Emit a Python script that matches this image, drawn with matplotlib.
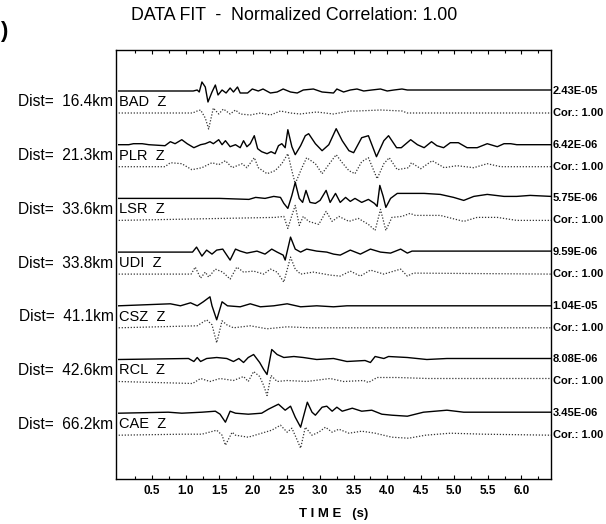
import matplotlib.pyplot as plt

# station info, top to bottom
STATIONS = ["BAD", "PLR", "LSR", "UDI", "CSZ", "RCL", "CAE"]
DISTANCES_KM = [16.4, 21.3, 33.6, 33.8, 41.1, 42.6, 66.2]
PEAK_AMPS = ["2.43E-05", "6.42E-06", "5.75E-06", "9.59E-06", "1.04E-05", "8.08E-06", "3.45E-06"]
CORRELATIONS = [1.00, 1.00, 1.00, 1.00, 1.00, 1.00, 1.00]
TIME_TICKS = [0.5, 1.0, 1.5, 2.0, 2.5, 3.0, 3.5, 4.0, 4.5, 5.0, 5.5, 6.0]

# (time [s], normalised amplitude, up positive)
BAD_OBS = [(0.00, 0), (1.11, 0), (1.17, 1), (1.20, -1), (1.24, 9), (1.29, 4), (1.33, -11), (1.39, -1),
           (1.44, 6), (1.48, -4), (1.54, 1), (1.60, -2), (1.66, 3), (1.71, -1), (1.77, 4), (1.81, -2),
           (1.92, -2), (1.99, 2), (2.08, 0), (2.15, 2), (2.26, -2), (2.36, -1), (2.45, 2), (2.56, -1),
           (2.66, -2), (2.75, 1), (2.90, 2), (3.03, -1), (3.20, -2), (3.25, 2), (3.35, -1), (3.45, 1),
           (3.55, 2), (3.65, 0), (3.77, 1), (3.90, 2), (4.00, 0), (4.10, 1), (4.22, 2), (4.30, 1), (6.44, 1)]
BAD_SYN = [(0.00, 0), (1.10, 0), (1.17, 2), (1.22, 3), (1.29, -5), (1.34, -16), (1.41, 5), (1.49, -1),
           (1.56, 4), (1.66, -1), (1.74, 3), (1.81, -1), (1.96, -2), (2.11, 0), (2.26, -2), (2.41, 2),
           (2.56, 0), (2.70, -1), (2.95, 1), (3.20, -1), (3.45, 2), (3.55, 2), (3.90, 3), (4.22, 2),
           (4.30, 0), (6.44, 0)]

PLR_OBS = [(0.00, 0), (0.15, 0), (0.22, 1), (0.35, 1), (0.45, 0), (0.69, -1), (0.77, 3), (0.84, 1),
           (0.94, 5), (1.02, 1), (1.12, -3), (1.22, 0), (1.29, 1), (1.36, 3), (1.41, 1), (1.49, 5),
           (1.54, 0), (1.59, 4), (1.66, -2), (1.74, 0), (1.81, -3), (1.86, 4), (1.91, -2), (1.96, 1),
           (2.02, 9), (2.07, -4), (2.13, -7), (2.21, -9), (2.27, -7), (2.33, -9), (2.38, -1), (2.43, 1),
           (2.48, -3), (2.52, 15), (2.58, -2), (2.63, -10), (2.71, -1), (2.78, 9), (2.83, 11), (2.93, 1),
           (3.03, -6), (3.13, 0), (3.24, 16), (3.33, 4), (3.43, -6), (3.50, -8), (3.62, 7), (3.72, 9),
           (3.84, -12), (3.95, 4), (4.02, 9), (4.14, -3), (4.21, -3), (4.35, 5), (4.45, 0), (4.55, -3),
           (4.66, 3), (4.74, -1), (4.84, -3), (4.94, 2), (5.06, 2), (5.19, -3), (5.34, -3), (5.49, 1),
           (5.64, -2), (5.74, 1), (5.84, 1), (5.93, 0), (6.44, 0)]
PLR_SYN = [(0.00, 0), (0.69, 0), (0.77, 4), (0.94, 3), (1.09, -3), (1.24, -1), (1.39, 4), (1.49, 2),
           (1.59, 6), (1.69, -1), (1.84, 3), (1.91, -1), (2.02, 9), (2.08, -1), (2.21, -7), (2.33, -4),
           (2.43, 3), (2.52, 13), (2.58, -4), (2.63, -17), (2.73, -1), (2.80, 9), (2.93, 3), (3.03, -7),
           (3.15, 4), (3.24, 12), (3.33, 4), (3.43, -4), (3.52, -7), (3.62, 5), (3.72, 9), (3.85, -12),
           (3.95, 3), (4.03, 9), (4.15, -3), (4.32, -1), (4.36, 4), (4.50, -2), (4.67, 6), (4.85, -1),
           (5.04, 1), (5.29, -1), (5.49, 3), (5.69, 0), (6.44, 0)]

LSR_OBS = [(0.00, 0), (1.50, 0), (1.94, -1), (2.04, 1), (2.18, 0), (2.31, 2), (2.41, 1), (2.46, -5),
           (2.52, -10), (2.58, 3), (2.63, 16), (2.69, 0), (2.74, -4), (2.79, 8), (2.85, -4), (2.93, -5),
           (3.00, -2), (3.09, 8), (3.15, -4), (3.23, 5), (3.30, -4), (3.38, 1), (3.45, -3), (3.52, 0),
           (3.62, -4), (3.72, -1), (3.81, -5), (3.85, -8), (3.89, 13), (3.94, 2), (3.98, -9), (4.05, 0),
           (4.15, 5), (4.24, 5), (4.42, 5), (4.55, 5), (4.79, 4), (4.99, 1), (5.14, -2), (5.29, 2),
           (5.49, 4), (5.74, 2), (5.93, 2), (6.13, 3), (6.44, 2)]
LSR_SYN = [(0.00, 0), (2.33, 3), (2.46, 4), (2.52, -8), (2.58, 5), (2.63, 15), (2.69, -5), (2.75, 4),
           (2.83, -1), (2.98, -4), (3.09, 9), (3.18, -1), (3.28, 4), (3.43, -1), (3.57, 2), (3.72, -4),
           (3.82, -10), (3.90, 11), (3.98, -10), (4.07, 3), (4.22, 4), (4.34, 7), (4.42, 5), (4.79, 5),
           (5.14, -1), (5.34, 3), (5.64, 3), (5.93, 0), (6.44, 0)]

UDI_OBS = [(0.00, 0), (1.10, 0), (1.16, 5), (1.24, -4), (1.31, 2), (1.39, -2), (1.46, 2), (1.55, 3),
           (1.66, -8), (1.74, 3), (1.81, 1), (1.91, -1), (2.06, 1), (2.18, -2), (2.28, 3), (2.36, 0),
           (2.45, -3), (2.48, -8), (2.56, 15), (2.63, 3), (2.71, 0), (2.80, 3), (2.95, 1), (3.10, 0),
           (3.20, -2), (3.30, -3), (3.45, 2), (3.60, -2), (3.75, 3), (3.90, 0), (4.05, -1), (4.20, 3),
           (4.30, -1), (4.37, 1), (6.44, 1)]
UDI_SYN = [(0.00, 0), (1.08, 0), (1.14, 7), (1.22, -4), (1.29, 2), (1.34, -3), (1.44, 5), (1.55, 2),
           (1.66, -5), (1.76, 7), (1.86, 2), (2.01, 3), (2.16, 0), (2.26, 5), (2.36, 2), (2.46, -8),
           (2.56, 17), (2.63, 5), (2.71, 0), (2.90, 2), (3.15, -1), (3.30, -2), (3.45, 3), (3.60, -2),
           (3.75, 4), (3.95, 0), (4.20, 5), (4.30, -2), (4.39, 1), (6.44, 0)]

CSZ_OBS = [(0.00, 0), (0.77, 2), (0.92, 0), (1.07, 3), (1.17, 0), (1.26, 4), (1.36, 9), (1.39, 0),
           (1.46, -14), (1.54, 4), (1.62, 0), (1.81, -1), (1.96, 2), (2.11, -1), (2.31, 0), (2.51, 2),
           (2.71, -1), (2.95, 0), (3.20, -1), (3.40, 0), (6.44, 0)]
CSZ_SYN = [(0.00, 0), (1.17, 2), (1.31, 8), (1.39, 3), (1.46, -15), (1.54, 7), (1.61, 3), (1.71, 0),
           (1.96, 2), (2.21, -1), (2.51, 1), (2.85, 0), (6.44, 0)]

RCL_OBS = [(0.00, 0), (1.04, 1), (1.12, -2), (1.17, 2), (1.22, -2), (1.31, 1), (1.46, 2), (1.61, 1),
           (1.71, -2), (1.79, 1), (1.86, -3), (1.93, 2), (2.01, 5), (2.10, -3), (2.16, -10), (2.21, -15),
           (2.28, 10), (2.36, 5), (2.46, 2), (2.61, 3), (2.75, 2), (2.95, 0), (3.20, 1), (3.40, -2),
           (3.67, -1), (3.75, -3), (3.82, 3), (3.95, 1), (4.02, 3), (4.30, 2), (4.59, 0), (4.89, 1),
           (6.44, 1)]
RCL_SYN = [(0.00, 0), (1.10, -2), (1.22, 3), (1.36, 0), (1.51, 3), (1.71, 1), (1.86, 5), (1.93, 0),
           (2.01, 10), (2.10, 5), (2.16, -4), (2.21, -14), (2.27, 6), (2.36, 0), (2.51, 1), (2.80, 0),
           (3.15, 3), (3.35, 0), (3.65, 1), (3.72, -1), (3.85, 4), (4.15, 4), (4.60, 3), (6.44, 3)]

CAE_OBS = [(0.00, 0), (0.74, 1), (0.94, 0), (1.24, 1), (1.44, 2), (1.51, -1), (1.59, -9), (1.66, 2),
           (1.74, 0), (1.93, -1), (2.13, 0), (2.23, 4), (2.38, 9), (2.48, 3), (2.56, 7), (2.63, -4),
           (2.71, -14), (2.81, 11), (2.88, 1), (2.93, -2), (3.03, 6), (3.10, 7), (3.18, 2), (3.25, 6),
           (3.33, 2), (3.48, 5), (3.62, 2), (3.77, 3), (3.92, -1), (4.07, -2), (4.30, -3), (4.54, 1),
           (4.89, 3), (5.14, 1), (6.44, 1)]
CAE_SYN = [(0.00, 0), (0.94, 1), (1.24, 1), (1.46, 5), (1.54, 0), (1.59, -10), (1.69, 3), (1.74, 0),
           (1.93, -2), (2.13, 2), (2.28, 5), (2.41, 10), (2.51, 3), (2.58, 7), (2.66, -5), (2.71, -13),
           (2.78, 8), (2.88, 0), (2.98, 3), (3.08, 8), (3.18, 3), (3.28, 6), (3.43, 2), (3.62, 4),
           (3.82, 2), (4.07, -2), (4.32, -3), (4.57, 0), (4.94, 2), (5.44, 1), (6.44, 0)]

OBSERVED = [BAD_OBS, PLR_OBS, LSR_OBS, UDI_OBS, CSZ_OBS, RCL_OBS, CAE_OBS]
SYNTHETIC = [BAD_SYN, PLR_SYN, LSR_SYN, UDI_SYN, CSZ_SYN, RCL_SYN, CAE_SYN]

FIRST_ROW = 91.0
ROW_STEP = 53.7
SYN_OFFSET = 22.0

plt.rcParams["font.family"] = ["Liberation Sans", "DejaVu Sans"]

fig = plt.figure(figsize=(6.06, 5.24), dpi=100, facecolor="white")
ax = fig.add_axes([116 / 606, 1 - 479 / 524, 435 / 606, 429 / 524])
ax.set_xlim(-0.04, 6.44)
ax.set_ylim(479, 50)

for i, name in enumerate(STATIONS):
    base = FIRST_ROW + ROW_STEP * i
    t_obs = [p[0] for p in OBSERVED[i]]
    y_obs = [base - p[1] for p in OBSERVED[i]]
    t_syn = [p[0] for p in SYNTHETIC[i]]
    y_syn = [base + SYN_OFFSET - p[1] for p in SYNTHETIC[i]]
    ax.plot(t_obs, y_obs, color="black", linewidth=1.0)
    ax.plot(t_syn, y_syn, color="#333333", linewidth=0.9, linestyle=(0, (1, 1.4)))

    ax.text(0.0, base + 11, f"{name}  Z", fontsize=10.5, va="center", ha="left")
    ax.text(-0.006, base + 11, f"Dist=  {DISTANCES_KM[i]:.1f}km", fontsize=11.2,
            va="center", ha="right", transform=ax.get_yaxis_transform())
    ax.text(1.004, base, PEAK_AMPS[i], fontsize=8, fontweight="bold",
            va="center", ha="left", transform=ax.get_yaxis_transform())
    ax.text(1.004, base + SYN_OFFSET, f"Cor.: {CORRELATIONS[i]:.2f}", fontsize=8,
            fontweight="bold", va="center", ha="left", transform=ax.get_yaxis_transform())

ax.set_xticks(TIME_TICKS)
ax.set_xticklabels([f"{v:.1f}" for v in TIME_TICKS], fontsize=8.5, fontweight="bold")
ax.set_xticks([v - 0.25 for v in TIME_TICKS] + [6.25], minor=True)
ax.set_yticks([])
ax.tick_params(axis="x", which="both", direction="in", top=True, length=3, width=0.8, pad=4)
ax.tick_params(axis="x", which="minor", length=2)
for spine in ax.spines.values():
    spine.set_linewidth(1.0)

ax.set_xlabel("T I M E   (s)", fontsize=9.5, fontweight="bold", labelpad=8)

fig.text(294 / 606, 1 - 15 / 524, "DATA FIT  -  Normalized Correlation: 1.00",
         fontsize=12.8, ha="center", va="center")
fig.text(0.0, 1 - 32 / 524, ")", fontsize=16, fontweight="bold", ha="left", va="center")

fig.savefig("out.png", dpi=100, facecolor="white")
plt.close(fig)
